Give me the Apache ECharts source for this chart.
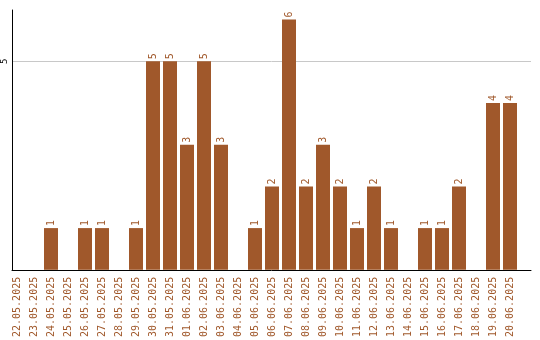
<!DOCTYPE html>
<html><head><meta charset="utf-8">
<script src="https://cdn.jsdelivr.net/npm/echarts@6/dist/echarts.min.js"></script>
<style>html,body{margin:0;padding:0;background:#fff}#c{width:540px;height:340px}</style>
</head><body><div id="c"></div>
<script>
const categories = ["22.05.2025","23.05.2025","24.05.2025","25.05.2025","26.05.2025","27.05.2025","28.05.2025","29.05.2025","30.05.2025","31.05.2025","01.06.2025","02.06.2025","03.06.2025","04.06.2025","05.06.2025","06.06.2025","07.06.2025","08.06.2025","09.06.2025","10.06.2025","11.06.2025","12.06.2025","13.06.2025","14.06.2025","15.06.2025","16.06.2025","17.06.2025","18.06.2025","19.06.2025","20.06.2025"];
const values = [0,0,1,0,1,1,0,1,5,5,3,5,3,0,1,2,6,2,3,2,1,2,1,0,1,1,2,0,4,4];
const yTicks = [5];
const yMax = 6.23;
const color = '#a0582b';
const font = 'DejaVu Sans Mono';
const chart = echarts.init(document.getElementById('c'));
chart.setOption({
  animation: false,
  grid: [
    {left: 8.5, right: 21.5, top: 10, bottom: 70},
    {left: 10, right: 9, top: 10, bottom: 70}
  ],
  xAxis: [
    {type: 'category', gridIndex: 0, data: categories,
     axisLine: {show: false}, axisTick: {show: false},
     axisLabel: {rotate: 90, interval: 0, color: color, fontFamily: font, fontSize: 10, margin: 7}},
    {type: 'value', gridIndex: 1, min: 0, max: 1,
     axisLine: {show: true, onZero: false, lineStyle: {color: '#000', width: 1}},
     axisTick: {show: false}, axisLabel: {show: false}, splitLine: {show: false}}
  ],
  yAxis: [
    {type: 'value', gridIndex: 0, min: 0, max: yMax, show: false},
    {type: 'value', gridIndex: 1, min: 0, max: yMax, interval: 5,
     axisLine: {show: true, lineStyle: {color: '#000', width: 1}},
     axisTick: {show: false},
     axisLabel: {rotate: 90, color: '#000', fontFamily: font, fontSize: 9, margin: 3,
       showMinLabel: false, showMaxLabel: false,
       formatter: v => yTicks.includes(v) ? String(v) : ''},
     splitLine: {show: true, lineStyle: {color: ['rgba(0,0,0,0)', '#c8c8c8', 'rgba(0,0,0,0)'], width: 1}}}
  ],
  series: [{
    type: 'bar', xAxisIndex: 0, yAxisIndex: 0,
    data: values.map(v => v === 0 ? null : v),
    barWidth: 14,
    itemStyle: {color: color},
    label: {show: true, position: 'top', rotate: 90, align: 'left', verticalAlign: 'middle',
      distance: 2, color: color, fontFamily: font, fontSize: 10}
  }]
});
</script></body></html>
